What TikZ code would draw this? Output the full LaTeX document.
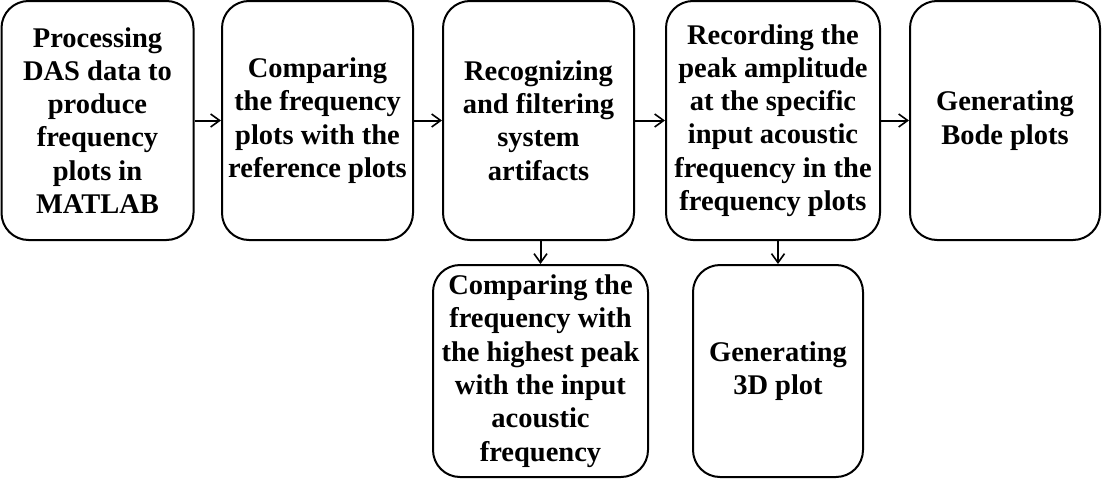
\documentclass[tikz,border=0pt]{standalone}
\usepackage{fontspec}
\setmainfont{Liberation Serif}
\usetikzlibrary{arrows.meta}
\tikzset{
	stepbox/.style={draw, line width=2pt, rounded corners=27pt, align=center,
		inner sep=0pt, minimum height=239pt,
		font=\bfseries\fontsize{28.5}{33.3}\selectfont},
	lowbox/.style={stepbox, minimum height=212pt},
	flow/.style={line width=2pt, -{Straight Barb[length=9pt,width=13pt,line width=1.6pt]}}
}

\begin{document}
\begin{tikzpicture}[x=1pt, y=-1pt]
		\useasboundingbox (0,0) rectangle (1102,479);

		\node[stepbox, minimum width=192pt] (proc) at (97.5,120.5)
			{Processing\\DAS data to\\produce\\frequency\\plots in\\MATLAB};
		\node[stepbox, minimum width=191pt] (comp) at (317.5,120.5)
			{Comparing\\the frequency\\plots with the\\reference plots};
		\node[stepbox, minimum width=191pt] (filt) at (538.5,120.5)
			{Recognizing\\and filtering\\system\\artifacts};
		\node[stepbox, minimum width=214pt] (peak) at (773,120.5)
			{Recording the\\peak amplitude\\at the specific\\input acoustic\\frequency in the\\frequency plots};
		\node[stepbox, minimum width=190pt] (bode) at (1005,120.5)
			{Generating\\Bode plots};

		\node[lowbox, minimum width=215pt] (high) at (540.5,371)
			{Comparing the\\frequency with\\the highest peak\\with the input\\acoustic\\frequency};
		\node[lowbox, minimum width=170pt] (plot) at (778,371)
			{Generating\\3D plot};

		\draw[flow] (proc) -- (comp);
		\draw[flow] (comp) -- (filt);
		\draw[flow] (filt) -- (peak);
		\draw[flow] (peak) -- (bode);

		\draw[flow] (high.north |- filt.south) -- (high.north);
		\draw[flow] (plot.north |- peak.south) -- (plot.north);
	\end{tikzpicture}
\end{document}
